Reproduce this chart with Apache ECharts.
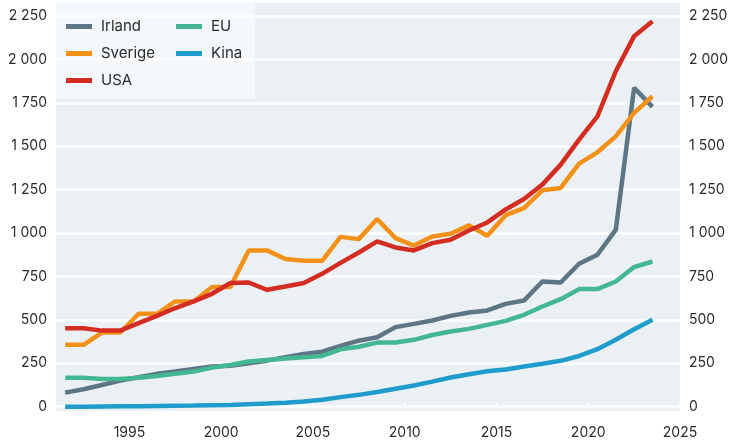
<!DOCTYPE html>
<html>
<head>
<meta charset="utf-8">
<script src="https://cdn.jsdelivr.net/npm/echarts@6/dist/echarts.min.js"></script>
<style>
  html, body { margin: 0; padding: 0; background: #fff; }
  #chart { width: 737px; height: 441px; }
</style>
</head>
<body>
<div id="chart"></div>
<script>
// år (verdiene plottes midt i året)
const years = [1991, 1992, 1993, 1994, 1995, 1996, 1997, 1998, 1999, 2000, 2001,
  2002, 2003, 2004, 2005, 2006, 2007, 2008, 2009, 2010, 2011, 2012, 2013, 2014,
  2015, 2016, 2017, 2018, 2019, 2020, 2021, 2022, 2023];

const irland = [81, 100, 125, 150, 169, 189, 202, 217, 231, 236, 250, 265, 285, 304,
  317, 350, 380, 400, 458, 477, 496, 523, 542, 554, 592, 611, 721, 715, 823, 875,
  1018, 1836, 1727];
const sverige = [356, 356, 427, 427, 535, 535, 606, 606, 689, 689, 900, 900, 850, 840,
  840, 978, 965, 1081, 971, 928, 980, 996, 1044, 984, 1103, 1143, 1246, 1260, 1400,
  1465, 1557, 1692, 1788];
const usa = [452, 452, 438, 438, 481, 523, 568, 606, 650, 712, 715, 673, 692, 712, 765,
  828, 888, 952, 917, 900, 942, 961, 1015, 1061, 1136, 1196, 1279, 1394, 1538, 1672,
  1932, 2134, 2220];
const eu = [167, 167, 160, 160, 167, 177, 189, 202, 225, 240, 260, 269, 277, 285, 292,
  330, 345, 369, 369, 385, 413, 433, 448, 471, 494, 529, 577, 619, 677, 677, 721,
  804, 836];
const kina = [0, 0, 1, 2, 3, 4, 5, 6, 8, 10, 14, 18, 23, 30, 40, 55, 68, 84, 103, 122,
  144, 168, 187, 204, 214, 231, 247, 264, 292, 331, 385, 446, 500];

const xTicks = [1995, 2000, 2005, 2010, 2015, 2020, 2025];
const yTicks = [0, 250, 500, 750, 1000, 1250, 1500, 1750, 2000, 2250];

const fontFamily = 'Inter, "Liberation Sans", sans-serif';

// tusenskille med mellomrom
const fmt = (v) => String(v).replace(/\B(?=(\d{3})+(?!\d))/g, ' ');

const toPoints = (vals) => years.map((y, i) => [y + 0.5, vals[i]]);

const makeSeries = (name, vals, color) => ({
  name: name,
  type: 'line',
  data: toPoints(vals),
  showSymbol: false,
  symbol: 'none',
  itemStyle: { color: color },
  lineStyle: { color: color, width: 4.5 },
});

const yAxisBase = {
  type: 'value',
  min: -25,
  max: 2325,
  axisLine: { show: false },
  axisTick: { show: false, customValues: yTicks },
  axisLabel: {
    customValues: yTicks,
    formatter: fmt,
    color: '#2b2b2b',
    fontSize: 14,
    fontFamily: fontFamily,
    margin: 9,
    padding: [0, 0, 5, 0],
  },
};

const myChart = echarts.init(document.getElementById('chart'));

const option = {
  animation: false,
  backgroundColor: '#fff',
  grid: {
    left: 56,
    right: 57,
    top: 3,
    bottom: 30,
    show: true,
    backgroundColor: '#ebf0f5',
    borderWidth: 0,
  },
  legend: [
    {
      data: ['Irland', 'Sverige', 'USA'],
      orient: 'vertical',
      left: 55,
      top: 3,
      padding: [16, 100, 10, 11],
      itemGap: 12,
      itemWidth: 26,
      itemHeight: 5,
      icon: 'rect',
      backgroundColor: 'rgba(255,255,255,0.5)',
      textStyle: { fontSize: 15, color: '#2b2b2b', fontFamily: fontFamily, padding: [0, 0, 0, 4] },
    },
    {
      data: ['EU', 'Kina'],
      orient: 'vertical',
      left: 176,
      top: 3,
      padding: [16, 0, 0, 0],
      itemGap: 12,
      itemWidth: 26,
      itemHeight: 5,
      icon: 'rect',
      textStyle: { fontSize: 15, color: '#2b2b2b', fontFamily: fontFamily, padding: [0, 0, 0, 4] },
    },
  ],
  xAxis: {
    type: 'value',
    min: 1991,
    max: 2025,
    axisLine: { show: false },
    axisTick: {
      customValues: xTicks,
      inside: true,
      length: 4,
      lineStyle: { color: '#fff', width: 2 },
    },
    axisLabel: {
      customValues: xTicks,
      formatter: (v) => String(v),
      color: '#2b2b2b',
      fontSize: 14,
      fontFamily: fontFamily,
      margin: 15,
    },
    splitLine: { show: false },
  },
  yAxis: [
    Object.assign({}, yAxisBase, {
      position: 'left',
      splitLine: { show: true, lineStyle: { color: '#fff', width: 2.5 } },
    }),
    Object.assign({}, yAxisBase, {
      position: 'right',
      splitLine: { show: false },
    }),
  ],
  series: [
    makeSeries('Irland', irland, '#5d7585'),
    makeSeries('Sverige', sverige, '#f39118'),
    makeSeries('USA', usa, '#d32d22'),
    makeSeries('EU', eu, '#43b792'),
    makeSeries('Kina', kina, '#1f9ccb'),
  ],
};

option && myChart.setOption(option);
</script>
</body>
</html>
